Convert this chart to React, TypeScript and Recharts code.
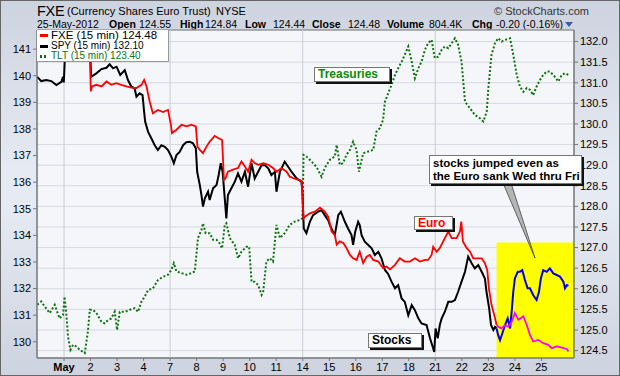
import React from "react";
import {
  ComposedChart,
  Line,
  XAxis,
  YAxis,
  CartesianGrid,
  ReferenceArea,
  ReferenceLine,
} from "recharts";

// ---------- labels / ticks ----------
const dayLabels = ["May", "2", "3", "4", "7", "8", "9", "10", "11", "14", "15", "16", "17", "18", "21", "22", "23", "24", "25"];
const dayTicks = dayLabels.map((_, i) => i);
const weekStarts = [0, 4, 9, 14];
const spyTicks = [130, 131, 132, 133, 134, 135, 136, 137, 138, 139, 140, 141];
const fxeTicks = [124.5, 125, 125.5, 126, 126.5, 127, 127.5, 128, 128.5, 129, 129.5, 130, 130.5, 131, 131.5, 132];
const xDomain = [-1.02, 19.23];
const spyDomain = [129.39, 141.72];
const fxeDomain = [124.32, 132.28];
const tltDomain = [116.53, 124.49];
const highlight = { x1: 16.31, y2: 127.12 };

// ---------- series: [day index, value] ----------
type P = [number, number];
const spyBlack: P[] = [
  [-1.01, 139.96], [-0.86, 139.8], [-0.67, 139.84], [-0.48, 139.8], [-0.29, 139.65], [-0.1, 139.77], [-0.04, 139.96], [-0.01, 139.75],
  [0.03, 140.65], [0.15, 140.95], [0.3, 141.2], [0.5, 141.35], [0.7, 141.15], [0.85, 141.3], [0.98, 141.1],
  [1.02, 139.96], [1.22, 140.09], [1.41, 140.25], [1.6, 140.3], [1.72, 140.43], [1.85, 140.28], [1.98, 140.34],
  [2.12, 140.03], [2.29, 140.21], [2.41, 139.84], [2.54, 139.59], [2.66, 139.53], [2.73, 139.21], [2.85, 139.34], [2.96, 139.27],
  [3.02, 138.64], [3.06, 138.27], [3.17, 137.89], [3.29, 137.65], [3.42, 137.39], [3.54, 137.21], [3.67, 137.39], [3.8, 137.33], [3.92, 137.21],
  [4.05, 136.95], [4.14, 136.71], [4.24, 137.02], [4.36, 137.14], [4.49, 137.39], [4.61, 137.5], [4.74, 137.52], [4.86, 137.46], [4.97, 137.27],
  [5.02, 136.39], [5.12, 135.89], [5.18, 135.52], [5.24, 135.08], [5.31, 135.39], [5.43, 135.64], [5.49, 135.33], [5.62, 135.77], [5.75, 135.89], [5.83, 136.27], [5.91, 136.71], [5.98, 136.39],
  [6.06, 135.39], [6.12, 134.64], [6.18, 135.52], [6.31, 135.77], [6.44, 136.02], [6.56, 136.33], [6.69, 136.02], [6.82, 136.39], [6.94, 135.83],
  [7.07, 136.71], [7.19, 136.14], [7.32, 136.39], [7.45, 136.64], [7.57, 136.64], [7.7, 136.52], [7.82, 136.27], [7.95, 136.39],
  [8.01, 135.64], [8.14, 136.39], [8.32, 136.77], [8.45, 136.58], [8.58, 136.39], [8.77, 136.14], [8.95, 136.02], [8.99, 135.64],
  [9.04, 134.26], [9.14, 134.08], [9.27, 134.51], [9.39, 134.76], [9.58, 134.89], [9.71, 134.95], [9.83, 134.76], [9.97, 134.55],
  [10.02, 134.39], [10.21, 134.01], [10.34, 134.76], [10.44, 134.89], [10.59, 134.51], [10.71, 134.26], [10.84, 134.01], [10.9, 133.64], [10.98, 134.14],
  [11.09, 134.51], [11.15, 134.39], [11.22, 134.01], [11.34, 133.76], [11.47, 133.64], [11.6, 133.51], [11.72, 133.26], [11.85, 133.38], [11.97, 133.14],
  [12.1, 132.7], [12.22, 132.55], [12.35, 132.26], [12.48, 132.01], [12.6, 132.13], [12.73, 131.63], [12.85, 131.5], [12.98, 131.0],
  [13.11, 131.38], [13.23, 131.19], [13.36, 130.88], [13.48, 130.69], [13.67, 130.63], [13.8, 130.13], [13.88, 129.88], [13.96, 129.62],
  [14.01, 130.5], [14.09, 130.13], [14.17, 130.63], [14.24, 130.88], [14.36, 131.13], [14.49, 131.5], [14.62, 131.5], [14.74, 131.57], [14.86, 131.88], [14.99, 132.26],
  [15.12, 132.63], [15.24, 133.2], [15.37, 132.95], [15.49, 132.76], [15.62, 132.88], [15.75, 132.63], [15.87, 132.38], [15.93, 131.88],
  [16.03, 131.26], [16.1, 130.63], [16.19, 130.44], [16.25, 130.56], [16.31, 130.5],
];
const spyBlue: P[] = [
  [16.31, 130.5], [16.37, 130.25], [16.44, 130.06], [16.53, 130.32], [16.63, 130.63], [16.73, 130.88], [16.82, 130.5], [16.88, 131.13], [16.94, 131.88],
  [17.0, 132.38], [17.11, 132.63], [17.19, 132.63], [17.28, 132.69], [17.38, 132.32], [17.48, 132.01], [17.57, 132.01], [17.69, 131.76], [17.82, 131.57], [17.91, 131.88], [17.98, 132.38],
  [18.07, 132.69], [18.2, 132.63], [18.32, 132.76], [18.45, 132.57], [18.58, 132.51], [18.7, 132.45], [18.83, 132.26], [18.89, 132.01], [18.96, 132.13], [19.02, 132.1],
];
const fxeRed: P[] = [
  [-1.01, 131.72], [-0.8, 131.78], [-0.55, 131.7], [-0.3, 131.76], [-0.05, 131.72],
  [0.03, 131.55], [0.15, 131.64], [0.35, 131.7], [0.55, 131.74], [0.75, 131.66], [0.97, 131.7],
  [1.01, 130.79], [1.05, 130.91], [1.22, 130.95], [1.41, 130.91], [1.6, 131.03], [1.78, 130.95], [1.97, 130.99],
  [2.16, 130.95], [2.35, 130.91], [2.54, 130.88], [2.73, 130.87], [2.92, 130.95],
  [3.02, 131.07], [3.11, 130.91], [3.23, 130.54], [3.35, 130.26], [3.54, 130.34], [3.73, 130.29], [3.92, 130.34],
  [4.03, 129.98], [4.07, 129.78], [4.24, 129.86], [4.43, 129.98], [4.62, 129.94], [4.8, 129.98], [4.97, 129.94],
  [5.03, 129.45], [5.12, 129.37], [5.24, 129.29], [5.37, 129.45], [5.49, 129.57], [5.68, 129.71], [5.81, 129.66], [5.96, 129.61],
  [6.03, 128.64], [6.09, 128.68], [6.18, 128.84], [6.37, 128.89], [6.56, 128.93], [6.69, 129.09], [6.82, 128.97], [6.94, 128.84],
  [7.07, 129.13], [7.19, 129.05], [7.32, 129.01], [7.51, 129.05], [7.7, 129.01], [7.88, 128.93],
  [8.01, 128.84], [8.2, 128.93], [8.39, 128.84], [8.51, 128.72], [8.7, 128.67], [8.96, 128.62],
  [9.03, 127.71], [9.08, 127.75], [9.27, 127.83], [9.46, 127.87], [9.65, 127.97], [9.83, 127.87], [9.96, 127.75],
  [10.09, 127.39], [10.21, 127.31], [10.28, 127.07], [10.4, 127.15], [10.53, 127.11], [10.65, 126.99], [10.78, 126.82], [10.9, 126.74],
  [11.03, 126.7], [11.15, 126.9], [11.28, 126.62], [11.41, 126.78], [11.53, 126.82], [11.66, 126.7], [11.85, 126.66],
  [12.03, 126.5], [12.16, 126.54], [12.29, 126.47], [12.48, 126.58], [12.66, 126.74], [12.85, 126.66],
  [13.04, 126.66], [13.23, 126.74], [13.42, 126.66], [13.61, 126.7], [13.73, 126.7], [13.86, 126.82], [13.92, 127.02],
  [14.05, 126.9], [14.17, 126.99], [14.36, 127.23], [14.49, 127.39], [14.62, 127.23], [14.8, 127.23], [14.93, 127.39], [14.98, 127.63],
  [15.04, 127.15], [15.18, 126.99], [15.31, 126.9], [15.43, 126.74], [15.56, 126.74], [15.75, 126.74], [15.87, 126.62], [15.96, 126.45],
  [16.02, 126.01], [16.12, 125.61], [16.25, 125.29], [16.31, 125.12],
];
const fxeMagenta: P[] = [
  [16.31, 125.12], [16.37, 125.08], [16.5, 125.04], [16.63, 125.12], [16.75, 125.08], [16.88, 125.2],
  [17.0, 125.41], [17.13, 125.25], [17.32, 125.33], [17.45, 125.12], [17.57, 124.88], [17.69, 124.72], [17.88, 124.76],
  [18.07, 124.68], [18.26, 124.64], [18.39, 124.56], [18.58, 124.6], [18.77, 124.57], [18.96, 124.54], [19.02, 124.48],
];
const tlt: P[] = [
  [-1.01, 117.82], [-0.86, 117.9], [-0.73, 117.78], [-0.54, 117.62], [-0.35, 117.82], [-0.17, 117.49], [-0.04, 117.57],
  [0.02, 118.02], [0.09, 117.57], [0.15, 117.05], [0.24, 116.73], [0.34, 116.85], [0.46, 116.81], [0.59, 116.73], [0.78, 116.65], [0.9, 117.17], [0.97, 117.7],
  [1.09, 117.7], [1.22, 117.62], [1.41, 117.41], [1.53, 117.37], [1.66, 117.45], [1.78, 117.49], [1.91, 117.65],
  [2.0, 117.21], [2.1, 117.65], [2.29, 117.65], [2.48, 117.7], [2.66, 117.74], [2.79, 117.65], [2.92, 117.9],
  [3.04, 118.02], [3.17, 118.18], [3.35, 118.22], [3.54, 118.42], [3.73, 118.5], [3.92, 118.55],
  [4.05, 118.67], [4.14, 118.83], [4.24, 118.63], [4.43, 118.59], [4.62, 118.55], [4.8, 118.59], [4.93, 118.63],
  [5.05, 119.44], [5.18, 119.64], [5.24, 119.8], [5.34, 119.56], [5.49, 119.56], [5.62, 119.4], [5.75, 119.4], [5.87, 119.31], [5.96, 119.19],
  [6.06, 119.76], [6.12, 119.8], [6.25, 119.44], [6.44, 119.27], [6.56, 118.95], [6.69, 119.11], [6.88, 119.23], [6.98, 119.23],
  [7.07, 118.38], [7.19, 118.38], [7.32, 118.3], [7.45, 118.06], [7.51, 118.14], [7.63, 118.87], [7.76, 118.95], [7.88, 118.87],
  [8.01, 119.76], [8.14, 119.44], [8.32, 119.56], [8.51, 119.76], [8.7, 119.84], [8.89, 119.88], [8.99, 119.92],
  [9.03, 121.46], [9.14, 121.42], [9.33, 121.3], [9.52, 121.17], [9.71, 120.93], [9.83, 121.14],
  [10.02, 121.34], [10.21, 121.42], [10.28, 121.7], [10.4, 121.22], [10.52, 121.26], [10.65, 121.46], [10.78, 121.58], [10.9, 121.78],
  [11.03, 121.58], [11.12, 121.05], [11.28, 121.5], [11.47, 121.54], [11.66, 121.58], [11.78, 122.02], [11.91, 122.11],
  [12.03, 122.31], [12.1, 122.75], [12.22, 122.95], [12.35, 123.16], [12.48, 123.4], [12.6, 123.56], [12.73, 123.72], [12.85, 123.89], [12.98, 124.09],
  [13.11, 123.72], [13.23, 123.32], [13.36, 123.56], [13.48, 123.72], [13.61, 124.01], [13.73, 124.17], [13.86, 124.25], [13.98, 123.81],
  [14.11, 123.84], [14.24, 124.01], [14.36, 124.09], [14.49, 124.05], [14.62, 124.17], [14.74, 124.29], [14.86, 124.13], [14.99, 123.72],
  [15.12, 122.75], [15.31, 122.59], [15.49, 122.43], [15.68, 122.35], [15.81, 122.27], [15.94, 122.51],
  [16.0, 123.08], [16.12, 123.89], [16.25, 124.17], [16.37, 124.29], [16.5, 124.21], [16.63, 124.25], [16.82, 124.29], [16.94, 123.89],
  [17.07, 123.4], [17.19, 123.12], [17.32, 122.99], [17.45, 123.08], [17.57, 123.04], [17.69, 122.91], [17.82, 123.12], [17.95, 123.28],
  [18.07, 123.4], [18.2, 123.48], [18.32, 123.48], [18.45, 123.4], [18.64, 123.24], [18.77, 123.4], [18.89, 123.44], [19.02, 123.4],
];

const rows = (pts: P[]) => pts.map(([x, v]) => ({ x, v }));

const FONT = '"Liberation Sans", Arial, sans-serif';

const XTick = (props: any) => {
  const { x, y, payload } = props;
  const i = payload.value as number;
  return (
    <text x={x} y={y} dy={9} textAnchor="middle" fontSize={11} fontFamily={FONT}
      fontWeight={i === 0 ? "bold" : "normal"} fill="#000">
      {dayLabels[i]}
    </text>
  );
};

const abs = (l: number, t: number, extra: React.CSSProperties = {}): React.CSSProperties => ({
  position: "absolute", left: l, top: t, whiteSpace: "nowrap", ...extra,
});

const boxStyle = (l: number, t: number, w: number, h: number): React.CSSProperties => ({
  position: "absolute", left: l, top: t, width: w, height: h, boxSizing: "border-box",
  background: "#fff", border: "1px solid #777", boxShadow: "2px 2px 0 #111",
  fontWeight: "bold", fontSize: 12, lineHeight: "12px", paddingLeft: 3, whiteSpace: "nowrap",
});

const L2 = 10.5;

export default function App() {
  const lineCommon = { dot: false, isAnimationActive: false, type: "linear" as const, dataKey: "v" };
  return (
    <div style={{ position: "absolute", left: 0, top: 0, width: 620, height: 376, fontFamily: FONT, overflow: "hidden",
      background: "linear-gradient(to bottom, #cdd3df 0%, #e6eaf2 45%, #e6eaf2 55%, #cdd3df 100%)" }}>
      {/* header */}
      <div style={abs(37, 3, { fontSize: 14.5, lineHeight: "16px", color: "#000", letterSpacing: -0.3 })}>FXE</div>
      <div style={abs(67, 5, { fontSize: 11, lineHeight: "13px", color: "#000" })}>(Currency Shares Euro Trust)</div>
      <div style={abs(216, 5, { fontSize: 11, lineHeight: "13px", color: "#000" })}>NYSE</div>
      <div style={abs(494, 5, { fontSize: 11, lineHeight: "13px", color: "#333" })}>© StockCharts.com</div>
      <div style={abs(37, 18, { fontSize: L2, lineHeight: "12px" })}>25-May-2012</div>
      <div style={abs(109, 18, { fontSize: L2, lineHeight: "12px", fontWeight: "bold" })}>Open</div>
      <div style={abs(139, 18, { fontSize: L2, lineHeight: "12px" })}>124.55</div>
      <div style={abs(180, 18, { fontSize: L2, lineHeight: "12px", fontWeight: "bold" })}>High</div>
      <div style={abs(205, 18, { fontSize: L2, lineHeight: "12px" })}>124.84</div>
      <div style={abs(245, 18, { fontSize: L2, lineHeight: "12px", fontWeight: "bold" })}>Low</div>
      <div style={abs(273, 18, { fontSize: L2, lineHeight: "12px" })}>124.44</div>
      <div style={abs(312, 18, { fontSize: L2, lineHeight: "12px", fontWeight: "bold" })}>Close</div>
      <div style={abs(348, 18, { fontSize: L2, lineHeight: "12px" })}>124.48</div>
      <div style={abs(387, 18, { fontSize: L2, lineHeight: "12px", fontWeight: "bold" })}>Volume</div>
      <div style={abs(429, 18, { fontSize: L2, lineHeight: "12px" })}>804.4K</div>
      <div style={abs(472, 18, { fontSize: L2, lineHeight: "12px", fontWeight: "bold" })}>Chg</div>
      <div style={abs(496, 18, { fontSize: L2, lineHeight: "12px" })}>-0.20 (-0.16%)</div>
      <svg style={abs(565, 22)} width={8} height={6}><polygon points="0,0 8,0 4,5" fill="#3a5bb0" /></svg>

      <div style={{ position: "absolute", left: 0, top: 0 }}>
        <ComposedChart width={620} height={376} margin={{ top: 30, right: 0, bottom: 0, left: 0 }}>
          <CartesianGrid yAxisId="fxe" vertical={false} stroke="#d6d9e0" fill="#f5f6fa" />
          <XAxis xAxisId={0} type="number" dataKey="x" domain={xDomain} allowDataOverflow ticks={dayTicks}
            interval={0} height={18} tickSize={3} tickMargin={1} tick={<XTick />}
            axisLine={{ stroke: "#777" }} tickLine={{ stroke: "#777" }} />
          <YAxis yAxisId="spy" orientation="left" width={37} domain={spyDomain} allowDataOverflow ticks={spyTicks}
            interval={0} tickSize={4} tickMargin={2} tick={{ fontSize: 11, fill: "#000", fontFamily: FONT }}
            axisLine={{ stroke: "#777" }} tickLine={{ stroke: "#777" }} />
          <YAxis yAxisId="fxe" orientation="right" width={46} domain={fxeDomain} allowDataOverflow ticks={fxeTicks}
            interval={0} tickSize={4} tickMargin={2} tickFormatter={(v: number) => v.toFixed(1)}
            tick={{ fontSize: 11, fill: "#000", fontFamily: FONT, textAnchor: "start" }}
            axisLine={{ stroke: "#777" }} tickLine={{ stroke: "#777" }} />
          <YAxis yAxisId="tlt" hide domain={tltDomain} allowDataOverflow />
          {weekStarts.map((w) => (
            <ReferenceLine key={w} x={w} yAxisId="spy" stroke="#c9cdd6" strokeWidth={1} />
          ))}
          <ReferenceArea yAxisId="fxe" x1={highlight.x1} x2={xDomain[1]} y1={fxeDomain[0]} y2={highlight.y2}
            fill="#ffff00" fillOpacity={1} stroke="none" />
          <Line {...lineCommon} data={rows(tlt)} yAxisId="tlt" stroke="#0d730d" strokeWidth={2} strokeDasharray="2 2" />
          <Line {...lineCommon} data={rows(spyBlack)} yAxisId="spy" stroke="#000000" strokeWidth={2} />
          <Line {...lineCommon} data={rows(fxeRed)} yAxisId="fxe" stroke="#ff0000" strokeWidth={1.8} />
          <Line {...lineCommon} data={rows(spyBlue)} yAxisId="spy" stroke="#0000ee" strokeWidth={2} />
          <Line {...lineCommon} data={rows(fxeMagenta)} yAxisId="fxe" stroke="#ff00ff" strokeWidth={1.8} />
          <ReferenceArea yAxisId="fxe" x1={xDomain[0]} x2={xDomain[1]} y1={fxeDomain[0]} y2={fxeDomain[1]}
            fill="none" stroke="#777" />
        </ComposedChart>
      </div>

      {/* legend */}
      <div style={{ position: "absolute", left: 37, top: 30, width: 132, height: 32, background: "#fff",
        borderRight: "1px solid #999", borderBottom: "1px solid #999", boxSizing: "border-box" }}>
        <div style={abs(3, 0, { fontSize: 11.5, lineHeight: "11px", color: "#000" })}>
          <span style={{ display: "inline-block", width: 8, height: 3, background: "#ff0000", verticalAlign: "middle", marginRight: 3 }} />
          FXE (15 min) 124.48
        </div>
        <div style={abs(3, 11, { fontSize: 10, lineHeight: "10px", color: "#000" })}>
          <span style={{ display: "inline-block", width: 8, height: 3, background: "#000", verticalAlign: "middle", marginRight: 3 }} />
          SPY (15 min) 132.10
        </div>
        <div style={abs(3, 21, { fontSize: 10, lineHeight: "10px", color: "#0d730d" })}>
          <span style={{ display: "inline-block", width: 8, height: 3, verticalAlign: "middle", marginRight: 3,
            backgroundImage: "linear-gradient(to right, #0d730d 50%, transparent 50%)", backgroundSize: "4px 3px" }} />
          TLT (15 min) 123.40
        </div>
      </div>

      {/* annotations */}
      <div style={{ ...boxStyle(314, 67, 76, 15), color: "#0a8a0a" }}>Treasuries</div>
      <div style={{ ...boxStyle(414, 216, 39, 14), color: "#ff0000" }}>Euro</div>
      <div style={{ ...boxStyle(368, 333, 54, 15), color: "#000" }}>Stocks</div>
      <svg style={abs(0, 0)} width={620} height={376}>
        <polygon points="503,183 511,183 535,258" fill="#b5b5b5" stroke="#444" strokeWidth={0.8} />
      </svg>
      <div style={{ ...boxStyle(429, 155, 153, 29), color: "#000", fontSize: 11.5, lineHeight: "13px", paddingTop: 1 }}>
        stocks jumped even as<br />the Euro sank Wed thru Fri
      </div>

      <div style={{ position: "absolute", left: 0, top: 0, width: 620, height: 376, boxSizing: "border-box",
        border: "1px solid #666", pointerEvents: "none" }} />
    </div>
  );
}
